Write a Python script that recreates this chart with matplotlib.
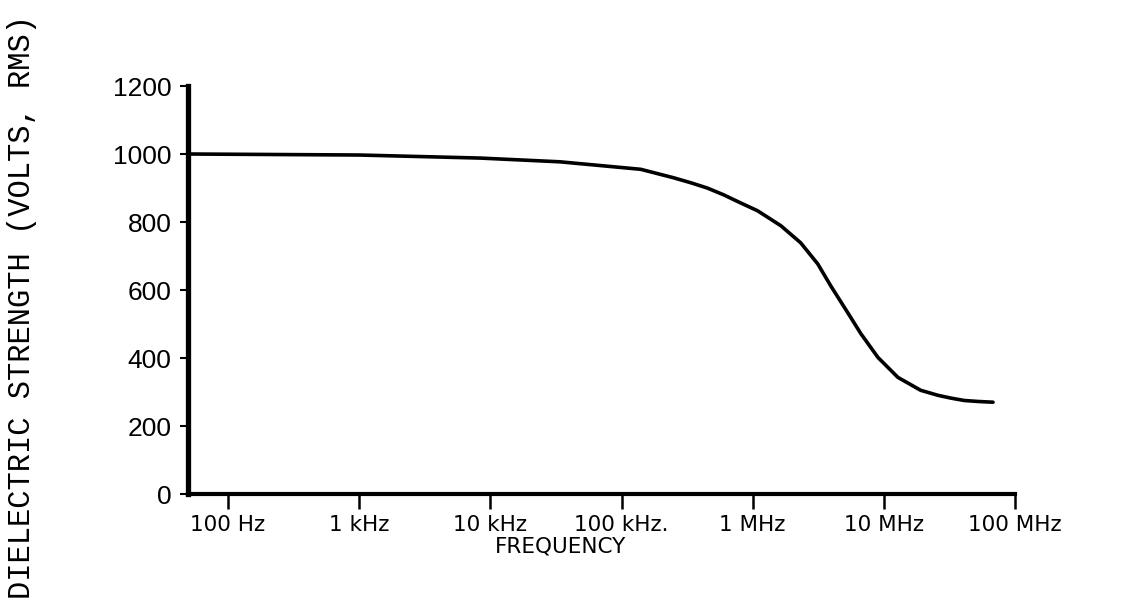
import numpy as np
import matplotlib
matplotlib.use('Agg')
import matplotlib.pyplot as plt

# values
freq_hz = [50, 1e3, 8.4e3, 3.4e4, 1.4e5, 2.5e5, 3.4e5, 4.5e5, 6.0e5, 8.1e5,
           1.09e6, 1.35e6, 1.64e6, 2.32e6, 3.13e6, 3.94e6, 5.31e6, 6.67e6,
           9.0e6, 1.28e7, 1.91e7, 2.6e7, 3.25e7, 4.1e7, 5.3e7, 6.8e7]
strength_v = [1000, 997, 988, 977, 955, 930, 915, 900, 880, 856,
              833, 810, 789, 739, 677, 612, 533, 472,
              402, 343, 305, 290, 282, 275, 272, 270]

tick_freqs = [1e2, 1e3, 1e4, 1e5, 1e6, 1e7, 1e8]
tick_names = ['100 Hz', '1 kHz', '10 kHz', '100 kHz.', '1 MHz', '10 MHz', '100 MHz']
y_ticks = [0, 200, 400, 600, 800, 1000, 1200]

fig = plt.figure(figsize=(11.21, 6.13), dpi=100)
ax = fig.add_axes([188/1121, 119/613, 827/1121, 408/613])

ax.plot(freq_hz, strength_v, color='black', lw=2.6, solid_capstyle='round',
        solid_joinstyle='round')

ax.set_xscale('log')
ax.set_xlim(49.5, 1.0e8)
ax.set_ylim(0, 1200)

ax.spines['top'].set_visible(False)
ax.spines['right'].set_visible(False)
ax.spines['left'].set_linewidth(3.8)
ax.spines['bottom'].set_linewidth(3.0)

ax.set_xticks(tick_freqs)
ax.set_xticklabels(tick_names, family='DejaVu Sans', fontsize=15.5)
ax.xaxis.set_minor_locator(matplotlib.ticker.NullLocator())
ax.tick_params(axis='x', direction='out', length=11, width=1.8, pad=4)

ax.set_yticks(y_ticks)
ax.set_yticklabels([str(v) for v in y_ticks], family='Liberation Sans',
                   fontsize=19)
ax.tick_params(axis='y', direction='out', length=6, width=1.5, pad=6)

ax.set_xlabel('FREQUENCY', family='DejaVu Sans', fontsize=15.5)
ax.xaxis.set_label_coords(0.45, -0.105)

fig.text(22/1121, 1 - 307/613, 'DIELECTRIC STRENGTH (VOLTS, RMS)',
         rotation=90, ha='center', va='center', family='Liberation Mono',
         fontsize=22)

fig.savefig('out.png', dpi=100)
